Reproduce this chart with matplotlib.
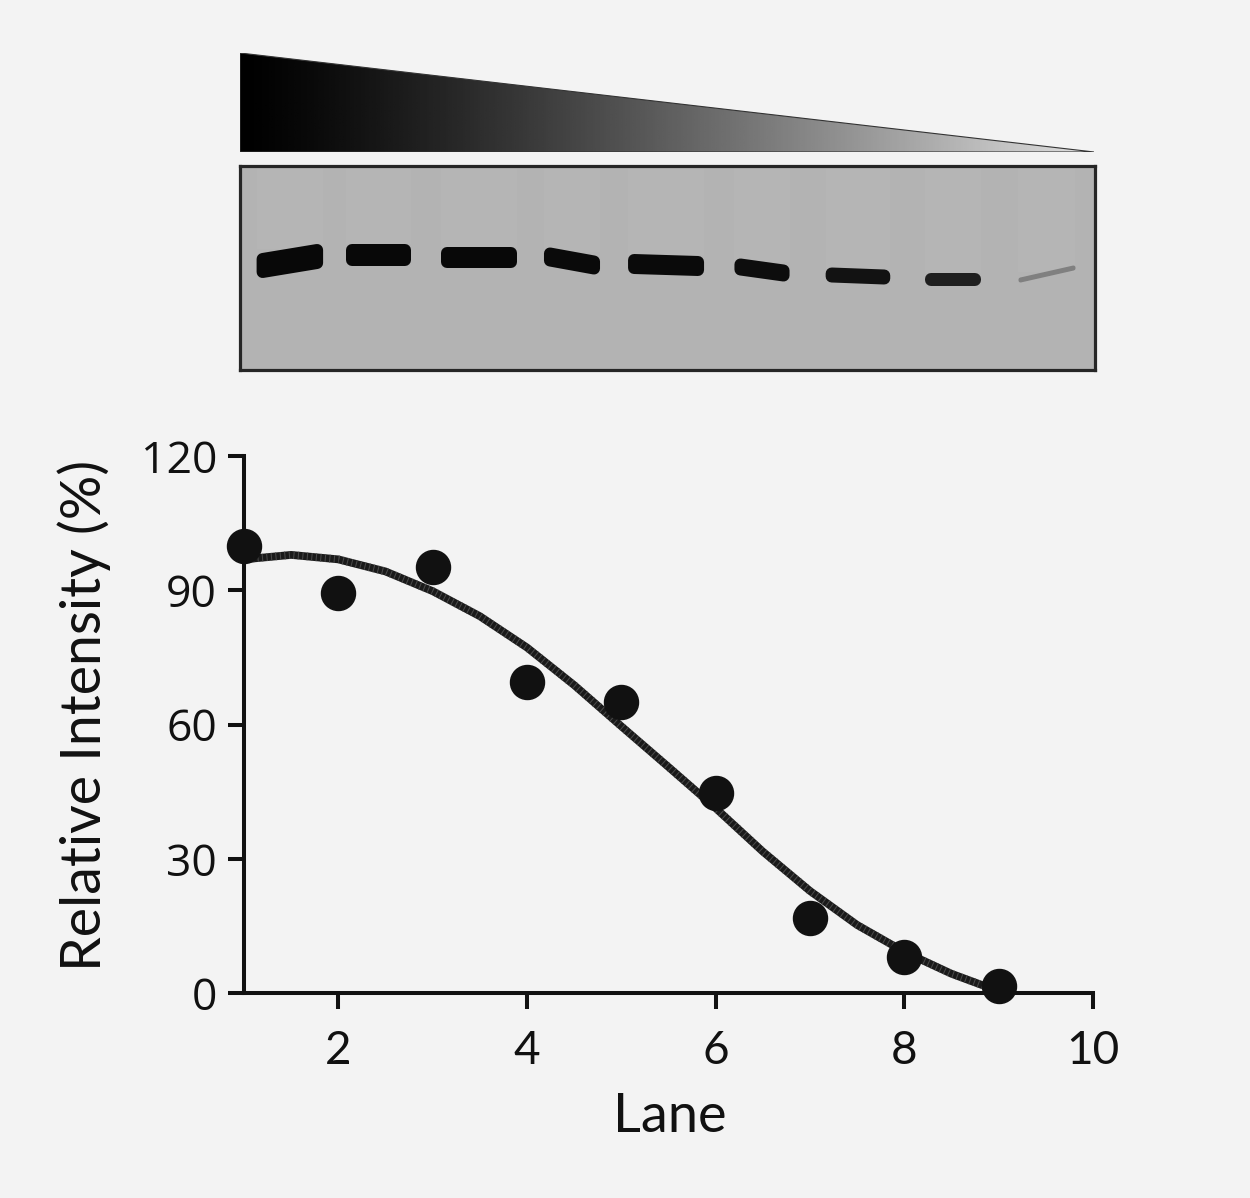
"""Gel band densitometry: dilution wedge, gel image and intensity fit."""

import numpy as np
import matplotlib
matplotlib.use("Agg")
import matplotlib.pyplot as plt
from matplotlib.patches import Polygon, Rectangle

W, H = 1250, 1198
BG = "#f3f3f3"

# measured band intensities
lanes = [1, 2, 3, 4, 5, 6, 7, 8, 9]
intensity = [100, 89.3, 95.1, 69.6, 65.1, 44.8, 16.7, 8.1, 1.6]

# fitted curve
fit_lane = [1.0, 1.5, 2.0, 2.5, 3.0, 3.5, 4.0, 4.5, 5.0, 5.5, 6.0, 6.5, 7.0,
            7.5, 8.0, 8.5, 9.0]
fit_value = [96.9, 97.9, 96.9, 94.2, 89.8, 84.2, 77.2, 68.8, 59.6, 50.5, 41.3,
             31.6, 22.8, 15.2, 9.2, 4.3, 0.4]

# gel bands: centre (lane), length (lanes), row from gel top, tilt, thickness
band_center = [1.03, 1.96, 3.02, 4.00, 4.99, 6.00, 7.01, 8.01, 9.00]
band_len = [0.70, 0.68, 0.80, 0.59, 0.80, 0.58, 0.68, 0.59, 0.60]
band_row = [95, 89, 91, 95, 99, 104, 110, 113, 108]
band_tilt = [-9, 0, 0, 8, 2, 6, 2, 0, -12]
band_thick = [25, 22, 21, 19, 20, 17, 15, 13, 5]
band_shade = [0.03, 0.03, 0.03, 0.04, 0.04, 0.05, 0.07, 0.12, 0.5]

y_ticks = [0, 30, 60, 90, 120]
x_ticks = [2, 4, 6, 8, 10]


def px_axes(fig, x0, y0, x1, y1):
    return fig.add_axes([x0 / W, 1 - y1 / H, (x1 - x0) / W, (y1 - y0) / H])


fig = plt.figure(figsize=(W / 100, H / 100), dpi=100, facecolor=BG)

# --- dilution wedge ---
wax = px_axes(fig, 240, 53, 1094, 152)
wax.set_axis_off()
grad = (np.linspace(0, 1, 400) ** 1.25 * 0.88)[None, :]
im = wax.imshow(grad, cmap="gray", vmin=0, vmax=1, aspect="auto",
                extent=(0, 1, 0, 1))
tri = Polygon([(0, 0), (0, 1), (1, 0)], closed=True, facecolor="none",
              edgecolor="#333333", linewidth=0.8)
wax.add_patch(tri)
im.set_clip_path(tri)
wax.set_xlim(0, 1)
wax.set_ylim(0, 1)

# --- gel ---
gax = px_axes(fig, 239.5, 166, 1094.5, 370)
gax.set_facecolor("#b3b3b3")
gax.set_xlim(0.5, 9.5)
gax.set_ylim(204, 0)
gax.set_xticks([])
gax.set_yticks([])
for sp in gax.spines.values():
    sp.set_linewidth(2.3)
    sp.set_color("#262626")
    sp.set_zorder(5)

px_per_lane = 855 / 9
radius = 6  # corner rounding of a band, px
for c, L, r, t, th, s in zip(band_center, band_len, band_row, band_tilt,
                             band_thick, band_shade):
    # faint lighter smear in the lane above each band
    gax.add_patch(Rectangle((c - L / 2, 0), L, r - th / 2, facecolor="white",
                            alpha=0.03, linewidth=0))
    rr = min(radius, th / 2 - 0.5)
    x0 = c - L / 2 + rr / px_per_lane
    x1 = c + L / 2 - rr / px_per_lane
    y0, y1 = r - t / 2, r + t / 2
    hh = th / 2 - rr
    band = Polygon([(x0, y0 - hh), (x1, y1 - hh), (x1, y1 + hh), (x0, y0 + hh)],
                   closed=True, facecolor=str(s), edgecolor=str(s),
                   linewidth=2 * rr * 0.72, joinstyle="round")
    gax.add_patch(band)

# --- intensity plot ---
ax = px_axes(fig, 244, 456, 1093, 993)
ax.set_facecolor(BG)
ax.plot(fit_lane, fit_value, color="#1a1a1a", linewidth=5.6, zorder=3,
        clip_on=False)
ax.plot(fit_lane, fit_value, color="#4a4a4a", linewidth=5.6, zorder=3,
        linestyle=(0, (0.13, 0.45)), clip_on=False)
ax.plot(lanes, intensity, "o", color="#111111", markersize=24.5, zorder=4,
        clip_on=False)

ax.set_xlim(1, 10)
ax.set_ylim(0, 120)
ax.set_xticks(x_ticks)
ax.set_yticks(y_ticks)
for side in ["top", "right"]:
    ax.spines[side].set_visible(False)
for side in ["left", "bottom"]:
    ax.spines[side].set_linewidth(2.9)
    ax.spines[side].set_color("#111111")
ax.tick_params(axis="both", direction="out", length=11.5, width=2.9,
               color="#111111", labelcolor="#111111")
ax.tick_params(axis="y", pad=8, labelsize=32, labelfontfamily="Open Sans")
ax.tick_params(axis="x", pad=15, labelsize=33, labelfontfamily="Lato")

ax.set_xlabel("Lane", fontsize=39, family="Lato", color="#111111")
ax.set_ylabel("Relative Intensity (%)", fontsize=40, family="Lato",
              color="#111111")
ax.xaxis.set_label_coords(0.502, -0.184)
ax.yaxis.set_label_coords(-0.1567, 0.516)

plt.savefig("out.png", dpi=100, facecolor=BG)
plt.close(fig)
